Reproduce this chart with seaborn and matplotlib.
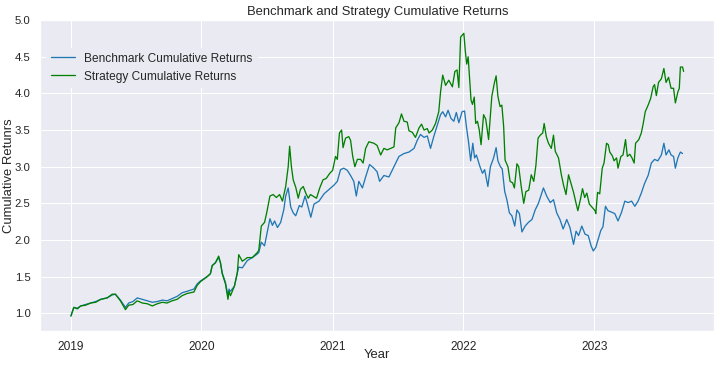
import pandas as pd
import seaborn as sns
import matplotlib.pyplot as plt
import matplotlib.dates as mdates

sns.set_theme(style="darkgrid")
plt.rcParams['font.family'] = ['Liberation Sans', 'DejaVu Sans']
plt.rcParams['xtick.major.pad'] = 3.5
plt.rcParams['ytick.major.pad'] = 3.0
plt.rcParams['ytick.labelsize'] = 10.5

# benchmark cumulative returns
bench_dates = [
    "2019-01-02", "2019-01-10", "2019-01-20", "2019-01-29", "2019-02-12", "2019-02-26", "2019-03-12",
    "2019-03-26", "2019-04-13", "2019-04-27", "2019-05-06", "2019-05-20", "2019-06-03", "2019-06-12",
    "2019-06-24", "2019-07-06", "2019-07-20", "2019-08-03", "2019-08-17", "2019-08-31", "2019-09-14",
    "2019-09-27", "2019-10-11", "2019-10-25", "2019-11-08", "2019-11-22", "2019-12-11", "2019-12-20",
    "2019-12-29", "2020-01-17", "2020-01-26", "2020-01-31", "2020-02-09", "2020-02-18", "2020-02-23",
    "2020-02-28", "2020-03-08", "2020-03-15", "2020-03-18", "2020-03-22", "2020-04-02", "2020-04-10",
    "2020-04-14", "2020-04-24", "2020-05-08", "2020-05-22", "2020-06-05", "2020-06-09", "2020-06-16",
    "2020-06-25", "2020-07-03", "2020-07-10", "2020-07-17", "2020-07-23", "2020-07-31", "2020-08-09",
    "2020-08-18", "2020-08-23", "2020-08-30", "2020-09-06", "2020-09-13", "2020-09-20", "2020-09-30",
    "2020-10-07", "2020-10-16", "2020-10-23", "2020-11-01", "2020-11-10", "2020-11-24", "2020-12-08",
    "2020-12-22", "2021-01-05", "2021-01-14", "2021-01-23", "2021-02-01", "2021-02-11", "2021-02-20",
    "2021-03-01", "2021-03-08", "2021-03-15", "2021-03-25", "2021-04-03", "2021-04-14", "2021-04-26",
    "2021-05-05", "2021-05-12", "2021-05-24", "2021-06-07", "2021-06-21", "2021-07-05", "2021-07-19",
    "2021-08-02", "2021-08-16", "2021-08-25", "2021-09-03", "2021-09-13", "2021-09-22", "2021-10-01",
    "2021-10-10", "2021-10-20", "2021-10-29", "2021-11-04", "2021-11-12", "2021-11-19", "2021-11-27",
    "2021-12-05", "2021-12-12", "2021-12-19", "2021-12-28", "2022-01-04", "2022-01-09", "2022-01-15",
    "2022-01-21", "2022-01-27", "2022-02-01", "2022-02-06", "2022-02-16", "2022-02-23", "2022-03-01",
    "2022-03-10", "2022-03-17", "2022-03-26", "2022-04-02", "2022-04-07", "2022-04-14", "2022-04-19",
    "2022-04-26", "2022-05-02", "2022-05-09", "2022-05-16", "2022-05-24", "2022-05-30", "2022-06-06",
    "2022-06-13", "2022-06-22", "2022-07-01", "2022-07-11", "2022-07-20", "2022-07-29", "2022-08-12",
    "2022-08-21", "2022-08-31", "2022-09-09", "2022-09-18", "2022-09-27", "2022-10-06", "2022-10-16",
    "2022-10-25", "2022-11-04", "2022-11-11", "2022-11-18", "2022-11-27", "2022-12-06", "2022-12-15",
    "2022-12-23", "2022-12-29", "2023-01-05", "2023-01-11", "2023-01-19", "2023-01-25", "2023-02-01",
    "2023-02-08", "2023-02-18", "2023-02-27", "2023-03-08", "2023-03-18", "2023-03-27", "2023-04-05",
    "2023-04-15", "2023-04-24", "2023-05-03", "2023-05-12", "2023-05-21", "2023-05-31", "2023-06-09",
    "2023-06-18", "2023-06-27", "2023-07-07", "2023-07-14", "2023-07-20", "2023-07-28", "2023-08-03",
    "2023-08-10", "2023-08-15", "2023-08-22", "2023-08-29", "2023-09-04",
]
bench_values = [
    0.97, 1.08, 1.07, 1.10, 1.12, 1.14, 1.16,
    1.19, 1.21, 1.25, 1.26, 1.18, 1.08, 1.14,
    1.16, 1.21, 1.19, 1.17, 1.15, 1.16, 1.18,
    1.17, 1.20, 1.23, 1.28, 1.30, 1.33, 1.40,
    1.44, 1.50, 1.54, 1.65, 1.69, 1.76, 1.69,
    1.55, 1.42, 1.24, 1.33, 1.30, 1.37, 1.55,
    1.63, 1.62, 1.72, 1.76, 1.81, 1.83, 1.97,
    1.92, 2.12, 2.29, 2.20, 2.26, 2.17, 2.24,
    2.42, 2.60, 2.71, 2.45, 2.37, 2.33, 2.47,
    2.45, 2.60, 2.48, 2.31, 2.49, 2.53, 2.63,
    2.69, 2.75, 2.80, 2.96, 2.98, 2.95, 2.88,
    2.80, 2.60, 2.80, 2.71, 2.86, 3.03, 2.98,
    2.93, 2.80, 2.88, 2.86, 3.00, 3.14, 3.18,
    3.20, 3.25, 3.36, 3.44, 3.40, 3.42, 3.25,
    3.41, 3.57, 3.71, 3.75, 3.68, 3.77, 3.66,
    3.62, 3.74, 3.60, 3.75, 3.76, 3.55, 3.34,
    3.08, 3.32, 3.12, 3.16, 3.00, 2.91, 2.96,
    2.73, 3.00, 3.12, 3.26, 3.08, 3.00, 2.97,
    2.66, 2.55, 2.37, 2.33, 2.19, 2.41, 2.36,
    2.11, 2.19, 2.24, 2.28, 2.41, 2.50, 2.71,
    2.60, 2.51, 2.55, 2.37, 2.28, 2.15, 2.28,
    2.17, 1.94, 2.12, 2.06, 2.19, 2.08, 2.06,
    1.92, 1.85, 1.90, 2.00, 2.13, 2.18, 2.46,
    2.40, 2.38, 2.36, 2.26, 2.38, 2.53, 2.51,
    2.53, 2.46, 2.53, 2.64, 2.77, 2.88, 3.05,
    3.10, 3.08, 3.16, 3.32, 3.16, 3.23, 3.16,
    3.14, 2.98, 3.12, 3.20, 3.18,
]

# strategy cumulative returns
strat_dates = [
    "2019-01-02", "2019-01-10", "2019-01-20", "2019-01-29", "2019-02-12", "2019-02-26", "2019-03-12",
    "2019-03-26", "2019-04-13", "2019-04-27", "2019-05-06", "2019-05-20", "2019-06-03", "2019-06-12",
    "2019-06-24", "2019-07-06", "2019-07-20", "2019-08-03", "2019-08-17", "2019-08-31", "2019-09-14",
    "2019-09-27", "2019-10-11", "2019-10-25", "2019-11-08", "2019-11-22", "2019-12-11", "2019-12-20",
    "2019-12-29", "2020-01-17", "2020-01-26", "2020-01-31", "2020-02-09", "2020-02-18", "2020-02-23",
    "2020-02-28", "2020-03-08", "2020-03-15", "2020-03-18", "2020-03-22", "2020-04-02", "2020-04-10",
    "2020-04-14", "2020-04-24", "2020-05-08", "2020-05-22", "2020-06-05", "2020-06-09", "2020-06-16",
    "2020-06-25", "2020-07-01", "2020-07-10", "2020-07-19", "2020-07-28", "2020-08-06", "2020-08-14",
    "2020-08-23", "2020-08-30", "2020-09-03", "2020-09-08", "2020-09-13", "2020-09-20", "2020-09-27",
    "2020-10-03", "2020-10-11", "2020-10-18", "2020-10-25", "2020-10-31", "2020-11-07", "2020-11-17",
    "2020-11-26", "2020-12-05", "2020-12-14", "2020-12-24", "2021-01-01", "2021-01-09", "2021-01-14",
    "2021-01-20", "2021-01-26", "2021-01-30", "2021-02-06", "2021-02-15", "2021-02-20", "2021-02-26",
    "2021-03-04", "2021-03-11", "2021-03-20", "2021-03-27", "2021-04-03", "2021-04-12", "2021-04-26",
    "2021-05-05", "2021-05-15", "2021-05-24", "2021-06-02", "2021-06-12", "2021-06-21", "2021-06-26",
    "2021-07-05", "2021-07-12", "2021-07-19", "2021-07-28", "2021-08-02", "2021-08-11", "2021-08-20",
    "2021-08-30", "2021-09-06", "2021-09-13", "2021-09-22", "2021-09-27", "2021-10-06", "2021-10-15",
    "2021-10-24", "2021-10-29", "2021-11-04", "2021-11-12", "2021-11-21", "2021-12-01", "2021-12-08",
    "2021-12-14", "2021-12-19", "2021-12-24", "2022-01-02", "2022-01-06", "2022-01-10", "2022-01-14",
    "2022-01-22", "2022-01-26", "2022-01-31", "2022-02-04", "2022-02-09", "2022-02-14", "2022-02-19",
    "2022-02-26", "2022-03-04", "2022-03-12", "2022-03-21", "2022-03-28", "2022-04-02", "2022-04-07",
    "2022-04-13", "2022-04-18", "2022-04-23", "2022-04-27", "2022-05-05", "2022-05-11", "2022-05-18",
    "2022-05-23", "2022-05-30", "2022-06-04", "2022-06-11", "2022-06-18", "2022-06-24", "2022-07-02",
    "2022-07-09", "2022-07-16", "2022-07-22", "2022-07-28", "2022-08-03", "2022-08-10", "2022-08-14",
    "2022-08-20", "2022-08-26", "2022-09-03", "2022-09-09", "2022-09-14", "2022-09-23", "2022-10-01",
    "2022-10-07", "2022-10-14", "2022-10-21", "2022-10-29", "2022-11-04", "2022-11-11", "2022-11-16",
    "2022-11-23", "2022-11-29", "2022-12-05", "2022-12-11", "2022-12-18", "2022-12-25", "2023-01-03",
    "2023-01-05", "2023-01-10", "2023-01-16", "2023-01-23", "2023-01-28", "2023-02-04", "2023-02-09",
    "2023-02-13", "2023-02-20", "2023-02-25", "2023-03-04", "2023-03-08", "2023-03-16", "2023-03-22",
    "2023-03-29", "2023-04-03", "2023-04-10", "2023-04-16", "2023-04-22", "2023-04-26", "2023-05-05",
    "2023-05-12", "2023-05-17", "2023-05-23", "2023-05-31", "2023-06-07", "2023-06-14", "2023-06-18",
    "2023-06-23", "2023-06-29", "2023-07-07", "2023-07-14", "2023-07-20", "2023-07-27", "2023-08-03",
    "2023-08-10", "2023-08-15", "2023-08-22", "2023-08-26", "2023-08-29", "2023-09-04", "2023-09-07",
]
strat_values = [
    0.96, 1.08, 1.06, 1.10, 1.11, 1.14, 1.15,
    1.19, 1.21, 1.26, 1.26, 1.17, 1.05, 1.11,
    1.12, 1.17, 1.14, 1.13, 1.10, 1.13, 1.15,
    1.14, 1.17, 1.19, 1.24, 1.27, 1.29, 1.38,
    1.43, 1.50, 1.54, 1.65, 1.69, 1.78, 1.69,
    1.54, 1.40, 1.19, 1.30, 1.24, 1.37, 1.55,
    1.80, 1.71, 1.76, 1.76, 1.83, 1.86, 2.19,
    2.24, 2.37, 2.60, 2.62, 2.58, 2.62, 2.53,
    2.73, 3.00, 3.28, 3.00, 2.82, 2.72, 2.57,
    2.69, 2.73, 2.64, 2.57, 2.62, 2.60, 2.57,
    2.71, 2.82, 2.84, 2.91, 2.95, 3.14, 3.10,
    3.46, 3.50, 3.26, 3.39, 3.41, 3.36, 3.14,
    3.00, 3.10, 3.10, 3.05, 3.25, 3.34, 3.32,
    3.29, 3.16, 3.25, 3.23, 3.25, 3.27, 3.53,
    3.60, 3.72, 3.62, 3.61, 3.49, 3.47, 3.40,
    3.53, 3.58, 3.50, 3.52, 3.46, 3.50, 3.59,
    3.75, 4.02, 4.25, 4.11, 4.18, 4.09, 4.30,
    4.32, 4.08, 4.77, 4.82, 4.58, 4.40, 4.50,
    3.91, 3.85, 3.95, 3.59, 3.62, 3.50, 3.30,
    3.71, 3.65, 3.37, 3.96, 4.14, 4.24, 3.96,
    3.82, 3.84, 3.55, 3.09, 3.00, 2.80, 2.78,
    2.71, 3.04, 3.00, 2.73, 2.50, 2.66, 2.68,
    2.89, 2.80, 3.02, 3.39, 3.43, 3.46, 3.59,
    3.41, 3.32, 3.25, 3.43, 3.21, 3.12, 2.89,
    2.75, 2.62, 2.89, 2.75, 2.65, 2.50, 2.40,
    2.55, 2.70, 2.58, 2.64, 2.49, 2.45, 2.40,
    2.36, 2.65, 2.63, 2.98, 3.05, 3.32, 3.30,
    3.20, 3.15, 3.08, 3.12, 2.98, 3.14, 3.16,
    3.37, 3.14, 3.17, 3.12, 3.05, 3.32, 3.37,
    3.46, 3.58, 3.75, 3.84, 3.93, 4.09, 4.12,
    3.97, 4.15, 4.20, 4.34, 4.15, 4.22, 4.07,
    4.07, 3.87, 4.02, 4.07, 4.36, 4.36, 4.30,
]

bench = pd.DataFrame({'Date': pd.to_datetime(bench_dates), 'Returns': bench_values})
strat = pd.DataFrame({'Date': pd.to_datetime(strat_dates), 'Returns': strat_values})

DPI = 78
fig, ax = plt.subplots(figsize=(720 / DPI, 366 / DPI), dpi=DPI)
sns.lineplot(data=bench, x='Date', y='Returns', ax=ax, color='#1f77b4',
             linewidth=1.2, label='Benchmark Cumulative Returns')
sns.lineplot(data=strat, x='Date', y='Returns', ax=ax, color='green',
             linewidth=1.2, label='Strategy Cumulative Returns')

ax.xaxis.set_major_locator(mdates.YearLocator())
ax.xaxis.set_major_formatter(mdates.DateFormatter('%Y'))
ax.set_title("Benchmark and Strategy Cumulative Returns", pad=5)
ax.set_xlabel("Year")
ax.set_ylabel("Cumulative Retunrs")
ax.xaxis.set_label_coords(0.5, -0.058)
ax.yaxis.set_label_coords(-0.037, 0.5)
ax.set_ylim(0.76, 5.0)

ax.legend(loc='upper left', bbox_to_anchor=(0.0, 0.93), frameon=True,
          facecolor='#EAEAF2', edgecolor='#EAEAF2', framealpha=1)

plt.subplots_adjust(left=0.056, right=0.992, top=0.945, bottom=0.096)
plt.savefig("out.png", dpi=DPI)
